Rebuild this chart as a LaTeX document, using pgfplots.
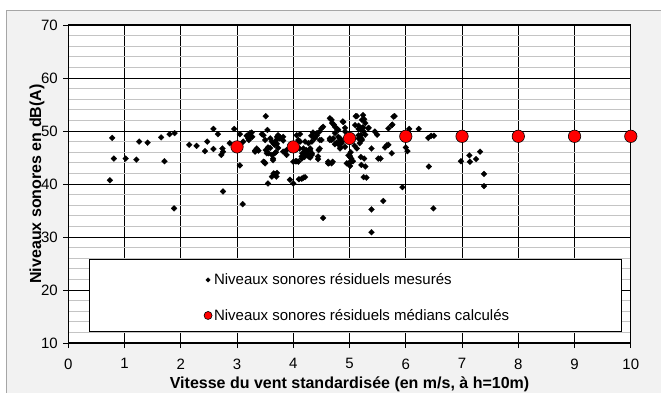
\documentclass[border=0pt]{standalone}
\usepackage{fontspec}
\setmainfont{Liberation Sans}
\usepackage{pgfplots}
\pgfplotsset{compat=1.18}
\definecolor{bggray}{HTML}{F2F2F2}
\definecolor{gridgray}{HTML}{C4C4C4}
\pgfplotsset{
  legdiam/.style={legend image code/.code={\draw[mark size=1.6pt,##1] plot coordinates {(4pt,0pt)};}},
  legcirc/.style={legend image code/.code={\draw[mark size=4pt,##1] plot coordinates {(4pt,0pt)};}},
}
\begin{document}
\begin{tikzpicture}
\fill[white] (-68.3pt,-49pt) rectangle (592.7pt,343pt);
\filldraw[fill=bggray, draw=gray!70, line width=0.8pt] (-61.8pt,332.5pt) rectangle (610pt,-70pt);
\begin{axis}[
 at={(0pt,0pt)}, anchor=south west,
 scale only axis, width=562.5pt, height=318pt,
 xmin=0, xmax=10, ymin=10, ymax=70,
 xtick={0,1,...,10}, ytick={10,20,...,70},
 minor y tick num=4,
 xmajorgrids, ymajorgrids, yminorgrids,
 major grid style={black, line width=0.7pt},
 minor grid style={gridgray, line width=1.1pt},
 axis line style={black, line width=1.3pt},
 axis background/.style={fill=white},
 tick align=outside, major tick length=5pt, minor tick length=0pt,
 xtick pos=bottom, ytick pos=left,
 tick style={black, line width=0.7pt},
 /pgf/number format/assume math mode=true,
 ticklabel style={font=\fontsize{15}{18}\selectfont},
 xticklabel style={yshift=-7pt},
 yticklabel style={xshift=-2pt},
 xlabel={Vitesse du vent standardisée (en m/s, à h=10m)},
 ylabel={Niveaux sonores en dB(A)},
 label style={font=\bfseries\fontsize{16}{19}\selectfont},
 xlabel style={at={(axis description cs:0.5,-0.1415)}, anchor=base},
 ylabel style={at={(axis description cs:-0.0557,0.5)}, anchor=center},
 clip=false,
 legend cell align=left,
 legend style={draw=none, fill=none, at={(axis cs:2.41,23.5)}, anchor=north west,
   font=\fontsize{15}{18}\selectfont, row sep=19pt, inner sep=0pt},
]
\draw[fill=white, draw=black, line width=0.8pt] (axis cs:0.37,12.26) rectangle (axis cs:9.84,25.85);
\addplot[only marks, mark=square*, mark size=2.1pt, mark options={rotate=45, fill=black, draw=black, line width=0.2pt}, legdiam]
 table {
0.74 40.7
0.78 48.7
0.81 44.8
1.02 44.8
1.21 44.6
1.26 48.0
1.41 47.8
1.65 48.8
1.71 44.3
1.80 49.4
1.89 49.6
1.88 35.4
2.15 47.4
2.28 47.2
2.43 46.2
2.47 48.0
2.58 50.4
2.58 46.6
2.66 49.4
2.72 45.5
2.74 46.7
2.75 46.1
2.75 38.6
2.87 47.7
2.95 50.4
3.05 49.4
3.05 43.5
3.10 36.2
3.11 48.0
3.17 49.1
3.20 48.6
3.21 48.3
3.23 49.4
3.23 49.6
3.25 49.0
3.27 48.9
3.26 49.7
3.32 46.3
3.32 46.1
3.35 46.4
3.35 46.7
3.38 46.3
3.44 49.4
3.47 49.2
3.47 44.2
3.49 44.1
3.50 48.3
3.50 43.9
3.51 52.8
3.51 46.4
3.53 45.8
3.54 50.2
3.55 46.9
3.56 45.8
3.55 40.1
3.59 48.6
3.59 46.8
3.62 48.0
3.62 45.5
3.62 41.4
3.64 44.5
3.64 44.8
3.65 47.6
3.65 42.0
3.67 47.4
3.67 45.8
3.67 41.9
3.70 48.3
3.70 41.4
3.71 42.1
3.71 48.9
3.71 47.6
3.73 46.8
3.69 46.0
3.73 49.2
3.76 48.9
3.76 48.6
3.82 48.2
3.82 48.9
3.82 46.1
3.85 46.1
3.88 46.4
3.88 45.5
3.94 40.8
4.00 40.1
4.00 44.2
4.04 44.3
4.06 49.2
4.06 44.3
4.09 48.3
4.09 44.2
4.10 40.9
4.11 46.7
4.12 49.4
4.12 48.0
4.15 44.8
4.15 45.2
4.15 41.0
4.16 45.8
4.18 41.2
4.18 46.7
4.20 45.1
4.21 48.0
4.21 45.9
4.21 41.3
4.23 46.4
4.24 45.8
4.24 46.1
4.27 47.7
4.27 45.2
4.30 45.0
4.30 46.4
4.30 46.7
4.32 49.1
4.33 48.0
4.33 45.5
4.33 45.8
4.35 49.7
4.38 48.6
4.39 48.9
4.42 49.2
4.42 49.6
4.44 44.7
4.44 45.2
4.45 46.4
4.47 49.9
4.47 48.3
4.47 46.7
4.50 50.5
4.50 48.3
4.53 50.8
4.53 33.6
4.62 44.2
4.62 43.9
4.63 43.9
4.65 52.4
4.65 48.6
4.65 48.3
4.68 52.1
4.69 51.5
4.68 48.3
4.68 43.9
4.70 44.2
4.71 48.6
4.72 51.2
4.74 50.8
4.74 49.6
4.74 47.5
4.77 47.8
4.78 50.4
4.80 50.2
4.80 48.9
4.80 47.5
4.83 48.3
4.83 48.6
4.83 46.7
4.84 46.9
4.86 47.7
4.86 48.0
4.88 51.8
4.89 51.7
4.92 50.6
4.92 49.9
4.92 47.0
4.95 43.9
4.98 45.4
4.98 43.9
5.00 45.4
5.01 45.1
5.01 43.4
5.02 46.0
5.03 44.8
5.04 44.3
5.06 44.3
5.09 47.2
5.10 51.1
5.11 52.8
5.13 52.8
5.13 46.7
5.16 48.6
5.16 50.4
5.16 51.0
5.16 49.2
5.18 47.7
5.19 50.3
5.20 49.2
5.20 45.1
5.21 48.6
5.21 43.6
5.22 50.5
5.22 52.1
5.22 48.3
5.24 53.0
5.24 50.7
5.25 49.9
5.25 41.3
5.26 52.2
5.26 44.8
5.28 49.3
5.28 51.5
5.28 43.3
5.30 41.2
5.33 50.5
5.34 50.6
5.39 46.7
5.39 35.2
5.39 30.9
5.45 49.9
5.49 49.3
5.51 44.8
5.55 44.8
5.60 36.8
5.63 46.9
5.66 47.3
5.69 50.5
5.69 47.4
5.75 45.8
5.75 51.1
5.76 51.2
5.78 52.7
5.80 52.8
5.94 39.4
6.00 46.9
6.03 46.2
6.06 50.4
6.23 50.4
6.40 48.7
6.41 43.3
6.45 49.1
6.49 35.4
6.50 49.1
6.98 44.3
7.13 45.4
7.14 44.2
7.25 44.7
7.32 46.1
7.39 41.9
7.39 39.6
};
\addlegendentry{Niveaux sonores résiduels mesurés}
\addplot[only marks, mark=*, mark size=6.2pt, mark options={fill=red, draw=black, line width=0.6pt}, legcirc]
 table {
3 47.0
4 47.0
5 48.6
6 49.0
7 49.0
8 49.0
9 49.0
10 49.0
};
\addlegendentry{Niveaux sonores résiduels médians calculés}
\end{axis}
\pgfresetboundingbox
\useasboundingbox (-68.3pt,-49pt) rectangle (592.7pt,343pt);
\end{tikzpicture}
\end{document}
